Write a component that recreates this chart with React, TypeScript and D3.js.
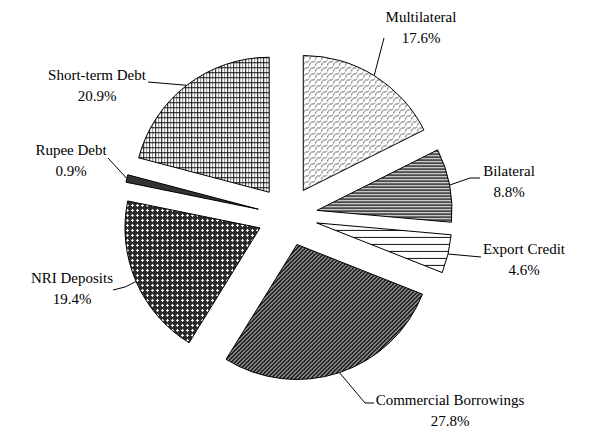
import React from 'react';
import * as d3 from 'd3';

// constants
const width = 595;
const height = 430;
const cx = 287.5;
const cy = 216;
const radius = 135;
const explode = 30;

// data
const categories = ['Multilateral', 'Bilateral', 'Export Credit', 'Commercial Borrowings', 'NRI Deposits', 'Rupee Debt', 'Short-term Debt'];
const shares = [17.6, 8.8, 4.6, 27.8, 19.4, 0.9, 20.9];
const shareLabels = ['17.6%', '8.8%', '4.6%', '27.8%', '19.4%', '0.9%', '20.9%'];
const fills = ['url(#pMulti)', 'url(#pBi)', 'url(#pExport)', 'url(#pComm)', 'url(#pNri)', '#333', 'url(#pShort)'];

// label layout: leader elbow points, centre x and first baseline of the text
const labelLayout = [
  { leader: [[384, 38]], x: 421, y: 22 },
  { leader: [[470, 178], [480, 178]], x: 509, y: 176 },
  { leader: [[481, 257]], x: 524, y: 254 },
  { leader: [[365, 403], [374, 403]], x: 450, y: 405 },
  { leader: [[125, 287], [113, 290]], x: 72, y: 283 },
  { leader: [[108, 158]], x: 71, y: 155 },
  { leader: [[148, 82]], x: 97, y: 80 },
];

const lineGap = 21;

const App = () => {
  const pie = d3.pie<number>().sort(null).value(d => d).startAngle(0).endAngle(2 * Math.PI);
  const arcs = pie(shares);
  const arc = d3.arc<d3.PieArcDatum<number>>().innerRadius(0).outerRadius(radius);

  return (
    <svg width={width} height={height} style={{ position: 'absolute', left: 0, top: 0 }}>
      <defs>
        <pattern id="pMulti" width="6" height="6" patternUnits="userSpaceOnUse">
          <rect width="6" height="6" fill="#fff" />
          <path d="M0,6 L3,3 L4,4 L7,1" stroke="#666" strokeWidth="1" fill="none" />
          <path d="M-3,3 L0,0 L1,1" stroke="#666" strokeWidth="1" fill="none" />
        </pattern>
        <pattern id="pBi" width="6" height="3" patternUnits="userSpaceOnUse">
          <rect width="6" height="3" fill="#fff" />
          <rect y="0" width="6" height="1.6" fill="#111" />
        </pattern>
        <pattern id="pExport" width="6" height="7" patternUnits="userSpaceOnUse">
          <rect width="6" height="7" fill="#fff" />
          <rect y="0" width="6" height="1" fill="#111" />
        </pattern>
        <pattern id="pComm" width="4" height="4" patternUnits="userSpaceOnUse">
          <rect width="4" height="4" fill="#fff" />
          <path d="M-1,1 L1,-1 M0,4 L4,0 M3,5 L5,3" stroke="#111" strokeWidth="2" />
        </pattern>
        <pattern id="pNri" width="5" height="5" patternUnits="userSpaceOnUse">
          <rect width="5" height="5" fill="#2a2a2a" />
          <rect x="1" y="2" width="3" height="1" fill="#fff" />
          <rect x="2" y="1" width="1" height="3" fill="#fff" />
        </pattern>
        <pattern id="pShort" width="6" height="5" patternUnits="userSpaceOnUse">
          <rect width="6" height="5" fill="#fff" />
          <rect x="0" y="0" width="1" height="5" fill="#111" />
          <rect x="3" y="0" width="1" height="5" fill="#888" />
          <rect x="0" y="0" width="6" height="1" fill="#111" />
        </pattern>
      </defs>
      <g transform={`translate(${cx},${cy})`}>
        {arcs.map((a, i) => {
          const mid = (a.startAngle + a.endAngle) / 2;
          const dx = explode * Math.sin(mid);
          const dy = -explode * Math.cos(mid);
          return (
            <path
              key={categories[i]}
              d={arc(a) || ''}
              transform={`translate(${dx},${dy})`}
              fill={fills[i]}
              stroke="#000"
              strokeWidth={1}
            />
          );
        })}
      </g>
      <g fontFamily="'Liberation Serif', 'Times New Roman', serif" fontSize={15} fill="#000" textAnchor="middle">
        {arcs.map((a, i) => {
          const mid = (a.startAngle + a.endAngle) / 2;
          const ox = cx + (explode + radius) * Math.sin(mid);
          const oy = cy - (explode + radius) * Math.cos(mid);
          const lay = labelLayout[i];
          const pts = [[ox, oy], ...lay.leader];
          return (
            <g key={categories[i]}>
              <path d={d3.line()(pts as [number, number][]) || ''} fill="none" stroke="#000" strokeWidth={1} />
              <text x={lay.x} y={lay.y}>{categories[i]}</text>
              <text x={lay.x} y={lay.y + lineGap}>{shareLabels[i]}</text>
            </g>
          );
        })}
      </g>
    </svg>
  );
};

export default App;
